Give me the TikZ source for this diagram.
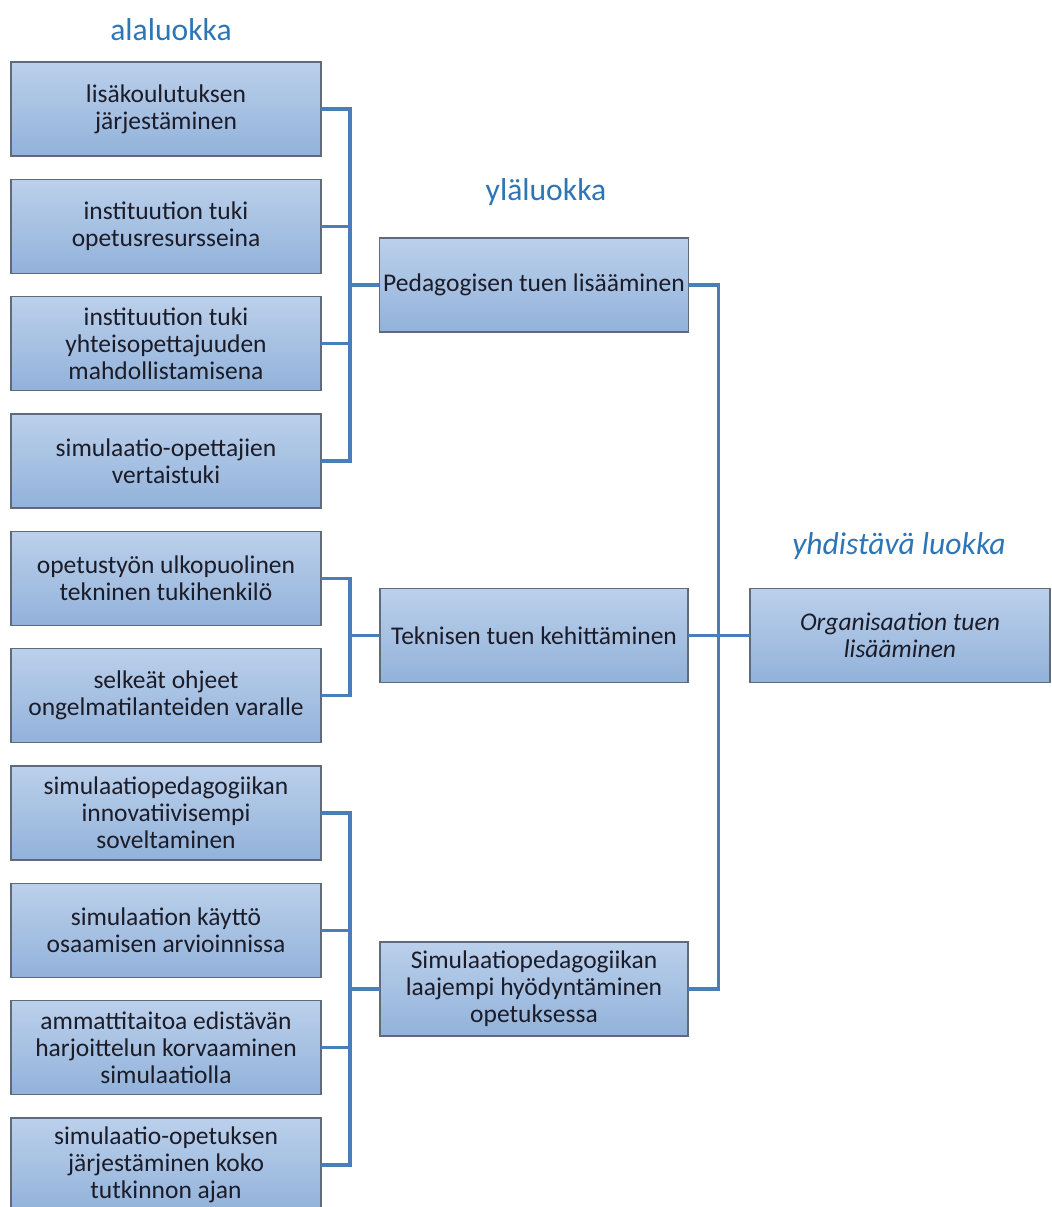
\documentclass[tikz,border=0pt]{standalone}
\usepackage{fontspec}
\setmainfont{Carlito}
\usepackage{tikz}
\usetikzlibrary{positioning}
\definecolor{linkblue}{HTML}{4A7EBB}
\definecolor{boxtop}{HTML}{BBD0EB}
\definecolor{boxbot}{HTML}{92B2DA}
\definecolor{boxedge}{HTML}{5F6B78}
\definecolor{headblue}{HTML}{2E75B6}
\definecolor{ink}{HTML}{1C1C28}

\begin{document}
\begin{tikzpicture}[x=0.5pt, y=-0.5pt,
  cat/.style={draw=boxedge, line width=0.7pt, top color=boxtop, bottom color=boxbot,
              align=center, text=ink, font=\fontsize{12.75}{13.5}\selectfont,
              minimum height=47pt, inner xsep=2pt, inner ysep=1pt, outer sep=0pt},
  sub/.style={cat, minimum width=155pt},
  up/.style={cat, minimum width=154pt},
  head/.style={text=headblue, font=\fontsize{15.8}{18}\selectfont},
  link/.style={draw=linkblue, line width=1.6pt}
]
  \useasboundingbox (0,0) rectangle (1052,1207);

  % headings
  \node[head] (h1) at (171,30) {alaluokka};
  \node[head] (h2) at (546,192) {yläluokka};
  \node[head, font=\fontsize{15.8}{18}\selectfont\itshape] (h3) at (899,546) {yhdistävä luokka};

  % alaluokat
  \node[sub] (a1) at (166,109) {lisäkoulutuksen\\järjestäminen};
  \node[sub, below=11.67pt of a1] (a2) {instituution tuki\\opetusresursseina};
  \node[sub, below=11.67pt of a2] (a3) {instituution tuki\\yhteisopettajuuden\\mahdollistamisena};
  \node[sub, below=11.67pt of a3] (a4) {simulaatio-opettajien\\vertaistuki};
  \node[sub, below=11.67pt of a4] (a5) {opetustyön ulkopuolinen\\tekninen tukihenkilö};
  \node[sub, below=11.67pt of a5] (a6) {selkeät ohjeet\\ongelmatilanteiden varalle};
  \node[sub, below=11.67pt of a6] (a7) {simulaatiopedagogiikan\\innovatiivisempi\\soveltaminen};
  \node[sub, below=11.67pt of a7] (a8) {simulaation käyttö\\osaamisen arvioinnissa};
  \node[sub, below=11.67pt of a8] (a9) {ammattitaitoa edistävän\\harjoittelun korvaaminen\\simulaatiolla};
  \node[sub, below=11.67pt of a9] (a10) {simulaatio-opetuksen\\järjestäminen koko\\tutkinnon ajan};

  % yläluokat
  \node[up] (y1) at (534,285) {Pedagogisen tuen lisääminen};
  \node[up] (y2) at (534,635.5) {Teknisen tuen kehittäminen};
  \node[up] (y3) at (534,989) {Simulaatiopedagogiikan\\laajempi hyödyntäminen\\opetuksessa};

  % yhdistävä luokka
  \node[cat, minimum width=150pt, font=\fontsize{12.75}{13.5}\selectfont\itshape] (org) at (900,635.5)
        {Organisaation tuen\\lisääminen};

  % connectors
  \draw[link] (a1.east) -- ++(29,0) |- (a4.east);
  \draw[link] (a2.east) -- ++(29,0);
  \draw[link] (a3.east) -- ++(29,0);
  \draw[link] (y1.west) -- ++(-30,0);

  \draw[link] (a5.east) -- ++(29,0) |- (a6.east);
  \draw[link] (y2.west) -- ++(-30,0);

  \draw[link] (a7.east) -- ++(29,0) |- (a10.east);
  \draw[link] (a8.east) -- ++(29,0);
  \draw[link] (a9.east) -- ++(29,0);
  \draw[link] (y3.west) -- ++(-30,0);

  \draw[link] (y1.east) -- ++(30,0) |- (y3.east);
  \draw[link] (y2.east) -- (org.west);
\end{tikzpicture}
\end{document}
